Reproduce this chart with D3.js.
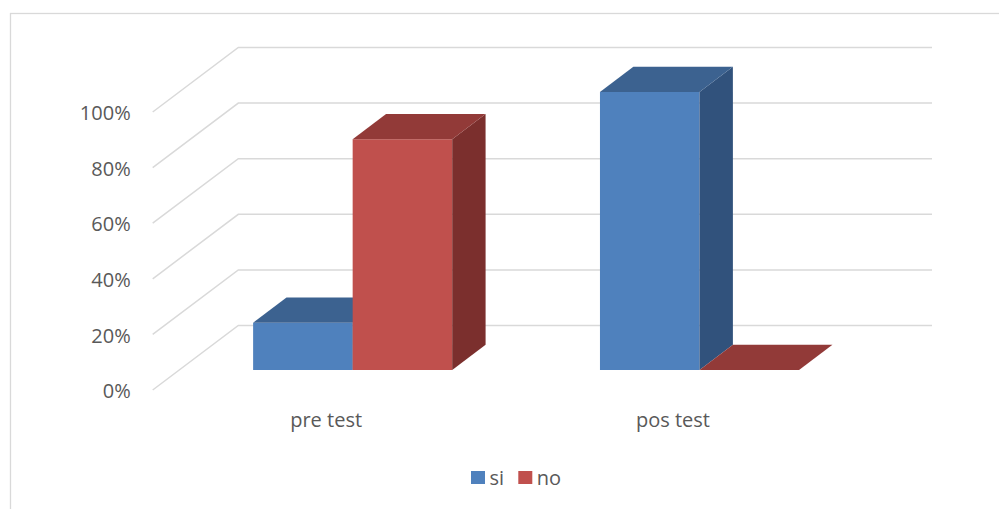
<!DOCTYPE html>
<html>
<head>
<meta charset="utf-8">
<script src="https://cdn.jsdelivr.net/npm/d3@7"></script>
<style>
  html, body { margin: 0; padding: 0; background: #ffffff; }
  svg { display: block; }
  text { font-family: "Open Sans", "Liberation Sans", sans-serif; fill: #595959; }
</style>
</head>
<body>
<svg id="chart" width="999" height="509"></svg>
<script>
// Data
const categories = ["pre test", "pos test"];
const seriesNames = ["si", "no"];
const siValues = [0.17, 1.00];
const noValues = [0.83, 0.00];
const tickValues = [0, 0.2, 0.4, 0.6, 0.8, 1.0];

// Face colours per series: front, top, side
const palette = {
  si: { front: "#4F81BD", top: "#3C6290", side: "#31527C" },
  no: { front: "#C0504D", top: "#923A38", side: "#7B2F2D" }
};

const svg = d3.select("#chart");

// Chart area frame
svg.append("rect")
  .attr("x", 10.5).attr("y", 13.5)
  .attr("width", 1000).attr("height", 600)
  .attr("fill", "none").attr("stroke", "#D9D9D9").attr("stroke-width", 1.3);

// Oblique projection of the 3D plot box
const origin = { x: 152.7, y: 390 };      // front-left corner of the floor
const depth = { x: 85.6, y: -64.5 };      // vector from front to back wall
const wallWidth = 693.7;
const plotHeight = 278;
const barZ = [0.31, 0.70];                // depth range occupied by the bars

const hScale = d3.scaleLinear().domain([0, 1]).range([0, plotHeight]);
const xBand = d3.scaleBand().domain(categories).range([0, wallWidth])
  .paddingInner(0.426).paddingOuter(0.213);
const xSeries = d3.scaleBand().domain(seriesNames).range([0, xBand.bandwidth()]);

function project(x, h, z) {
  return [origin.x + x + z * depth.x, origin.y - hScale(h) + z * depth.y];
}

// Gridlines: left wall diagonal + back wall horizontal
const grid = svg.append("g")
  .attr("fill", "none").attr("stroke", "#D9D9D9").attr("stroke-width", 1.5);
tickValues.forEach(v => {
  const pts = [project(0, v, 0), project(0, v, 1), project(wallWidth, v, 1)];
  grid.append("path").attr("d", d3.line()(pts));
});

// Bars
const rows = categories.map((c, i) => ({ category: c, si: siValues[i], no: noValues[i] }));
const bars = svg.append("g");
rows.forEach(row => {
  seriesNames.forEach(s => {
    const v = row[s];
    const x0 = xBand(row.category) + xSeries(s);
    const x1 = x0 + xSeries.bandwidth();
    const [z0, z1] = barZ;
    const col = palette[s];
    const g = bars.append("g");
    // front face
    g.append("path").attr("fill", col.front)
      .attr("d", d3.line()([project(x0, 0, z0), project(x1, 0, z0), project(x1, v, z0), project(x0, v, z0)]) + "Z");
    // side face
    g.append("path").attr("fill", col.side)
      .attr("d", d3.line()([project(x1, 0, z0), project(x1, 0, z1), project(x1, v, z1), project(x1, v, z0)]) + "Z");
    // top face
    g.append("path").attr("fill", col.top)
      .attr("d", d3.line()([project(x0, v, z0), project(x1, v, z0), project(x1, v, z1), project(x0, v, z1)]) + "Z");
  });
});

// Value axis on the front plane
const yAxisScale = d3.scaleLinear().domain([0, 1]).range([origin.y, origin.y - plotHeight]);
const yAxis = svg.append("g")
  .attr("transform", `translate(${origin.x},0)`)
  .call(d3.axisLeft(yAxisScale).tickValues(tickValues).tickSize(0).tickPadding(22)
    .tickFormat(d3.format(".0%")));
yAxis.select(".domain").remove();
yAxis.selectAll("text")
  .style("font-family", "'Open Sans', sans-serif").style("font-size", "20px")
  .attr("fill", "#595959").attr("dy", "0.38em");

// Category axis on the front plane
const xAxisScale = d3.scaleBand().domain(categories).range([origin.x, origin.x + wallWidth]);
const xAxis = svg.append("g")
  .attr("transform", `translate(0,${origin.y})`)
  .call(d3.axisBottom(xAxisScale).tickSize(0).tickPadding(23));
xAxis.select(".domain").remove();
xAxis.selectAll("text")
  .style("font-family", "'Open Sans', sans-serif").style("font-size", "20px")
  .attr("fill", "#595959");

// Legend
const legendItems = [
  { name: "si", x: 471 },
  { name: "no", x: 518.3 }
];
const legend = svg.append("g");
legendItems.forEach(d => {
  legend.append("rect").attr("x", d.x).attr("y", 471).attr("width", 14).attr("height", 13)
    .attr("fill", palette[d.name].front);
  legend.append("text").attr("x", d.x + 18.5).attr("y", 485)
    .style("font-size", "20px").text(d.name);
});
</script>
</body>
</html>
